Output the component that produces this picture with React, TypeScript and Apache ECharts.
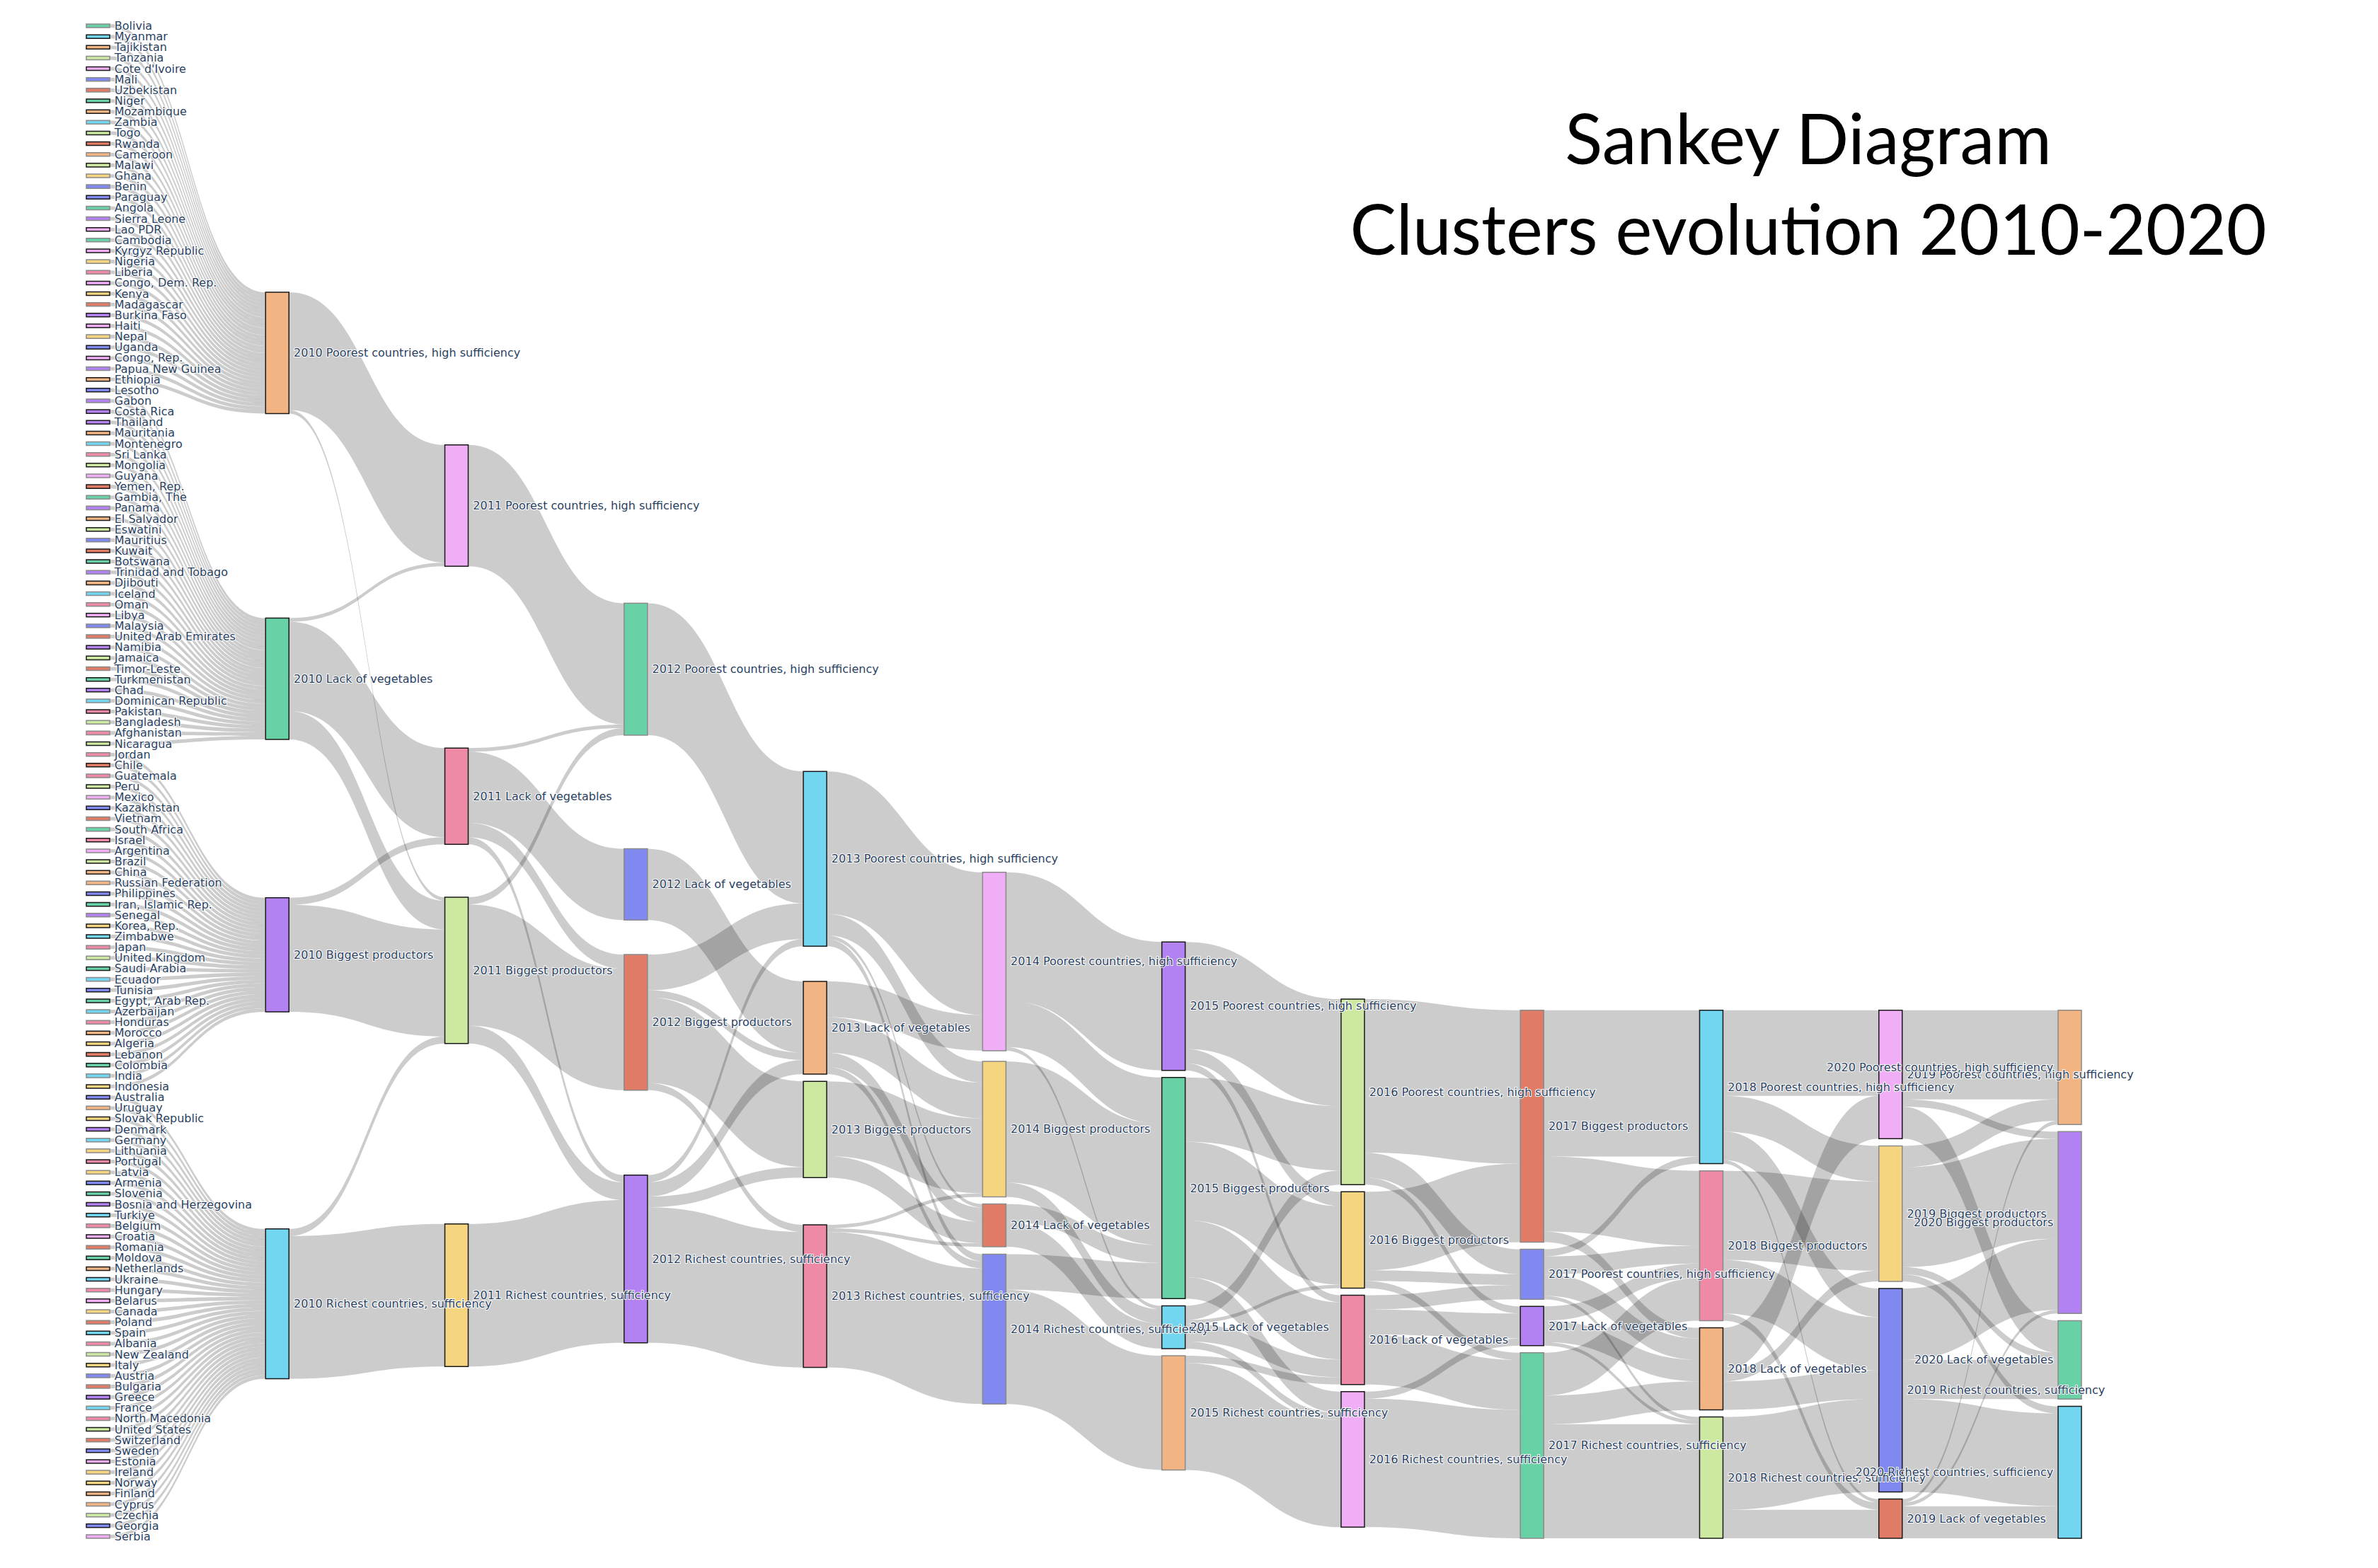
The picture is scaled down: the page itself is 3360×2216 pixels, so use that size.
import React, { useEffect, useRef } from 'react';
import * as echarts from 'echarts';

// ---------- DATA ----------
const clusters = [
  'Poorest countries, high sufficiency',
  'Lack of vegetables',
  'Biggest productors',
  'Richest countries, sufficiency',
];
const years = [2010, 2011, 2012, 2013, 2014, 2015, 2016, 2017, 2018, 2019, 2020];

const poorest2010 = [
  'Bolivia', 'Myanmar', 'Tajikistan', 'Tanzania', "Cote d'Ivoire", 'Mali', 'Uzbekistan', 'Niger',
  'Mozambique', 'Zambia', 'Togo', 'Rwanda', 'Cameroon', 'Malawi', 'Ghana', 'Benin', 'Paraguay',
  'Angola', 'Sierra Leone', 'Lao PDR', 'Cambodia', 'Kyrgyz Republic', 'Nigeria', 'Liberia',
  'Congo, Dem. Rep.', 'Kenya', 'Madagascar', 'Burkina Faso', 'Haiti', 'Nepal', 'Uganda',
  'Congo, Rep.', 'Papua New Guinea', 'Ethiopia',
];
const lack2010 = [
  'Lesotho', 'Gabon', 'Costa Rica', 'Thailand', 'Mauritania', 'Montenegro', 'Sri Lanka', 'Mongolia',
  'Guyana', 'Yemen, Rep.', 'Gambia, The', 'Panama', 'El Salvador', 'Eswatini', 'Mauritius', 'Kuwait',
  'Botswana', 'Trinidad and Tobago', 'Djibouti', 'Iceland', 'Oman', 'Libya', 'Malaysia',
  'United Arab Emirates', 'Namibia', 'Jamaica', 'Timor-Leste', 'Turkmenistan', 'Chad',
  'Dominican Republic', 'Pakistan', 'Bangladesh', 'Afghanistan', 'Nicaragua',
];
const biggest2010 = [
  'Jordan', 'Chile', 'Guatemala', 'Peru', 'Mexico', 'Kazakhstan', 'Vietnam', 'South Africa', 'Israel',
  'Argentina', 'Brazil', 'China', 'Russian Federation', 'Philippines', 'Iran, Islamic Rep.', 'Senegal',
  'Korea, Rep.', 'Zimbabwe', 'Japan', 'United Kingdom', 'Saudi Arabia', 'Ecuador', 'Tunisia',
  'Egypt, Arab Rep.', 'Azerbaijan', 'Honduras', 'Morocco', 'Algeria', 'Lebanon', 'Colombia', 'India',
  'Indonesia',
];
const richest2010 = [
  'Australia', 'Uruguay', 'Slovak Republic', 'Denmark', 'Germany', 'Lithuania', 'Portugal', 'Latvia',
  'Armenia', 'Slovenia', 'Bosnia and Herzegovina', 'Turkiye', 'Belgium', 'Croatia', 'Romania',
  'Moldova', 'Netherlands', 'Ukraine', 'Hungary', 'Belarus', 'Canada', 'Poland', 'Spain', 'Albania',
  'New Zealand', 'Italy', 'Austria', 'Bulgaria', 'Greece', 'France', 'North Macedonia',
  'United States', 'Switzerland', 'Sweden', 'Estonia', 'Ireland', 'Norway', 'Finland', 'Cyprus',
  'Czechia', 'Georgia', 'Serbia',
];

// transitions between consecutive years, rows = from [P, L, B, R], cols = to [P, L, B, R]
const flows2010to2011 = [[33, 0, 1, 0], [1, 25, 8, 0], [0, 2, 30, 0], [0, 0, 2, 40]];
const flows2011to2012 = [[34, 0, 0, 0], [1, 20, 4, 2], [2, 0, 34, 5], [0, 0, 0, 40]];
const flows2012to2013 = [[37, 0, 0, 0], [0, 20, 0, 0], [10, 2, 24, 2], [2, 4, 3, 38]];
const flows2013to2014 = [[40, 1, 6, 2], [10, 4, 10, 2], [0, 6, 21, 0], [0, 1, 1, 38]];
const flows2014to2015 = [[36, 1, 13, 0], [0, 7, 5, 0], [0, 4, 34, 0], [0, 0, 10, 32]];
const flows2015to2016 = [[30, 2, 4, 0], [4, 5, 1, 2], [18, 16, 22, 6], [0, 2, 0, 30]];
const flows2016to2017 = [[7, 2, 43, 0], [4, 7, 0, 14], [3, 0, 22, 2], [0, 2, 0, 36]];
const flows2017to2018 = [[2, 6, 5, 1], [0, 6, 4, 1], [41, 3, 21, 0], [0, 8, 12, 32]];
const flows2018to2019 = [[24, 1, 10, 8], [12, 0, 3, 8], [0, 2, 25, 15], [0, 8, 0, 26]];
const flows2019to2020 = [[25, 9, 2, 0], [1, 0, 1, 9], [6, 2, 28, 2], [0, 11, 20, 26]];

const transitions = [
  flows2010to2011, flows2011to2012, flows2012to2013, flows2013to2014, flows2014to2015,
  flows2015to2016, flows2016to2017, flows2017to2018, flows2018to2019, flows2019to2020,
];

// ---------- STYLES ----------
const palette: Record<string, string> = {
  G: '#68D2A6', // green
  C: '#72D6F0', // cyan
  O: '#F2B482', // orange
  E: '#CDE8A0', // light green
  V: '#F0AEF6', // violet
  U: '#8089F0', // blue
  D: '#E07C66', // red
  P: '#B282F2', // purple
  Y: '#F5D580', // yellow
  S: '#EE8AA6', // rose
};
// one letter per country, in list order
const countryColorKeys =
  'GCOEVUDGOCEDOEYUUGPVGVYS' + 'VYDPVYUVPOUPPPOCSEVDGPO' + 'EUDGPOCSVUDPEDGPCSESESDSE' +
  'VUDGSVEOOUGPYCSEGCUGCSOY' + 'DGCYUOYPCYSYUGPCSVDGOCSV' + 'YDCSEYUDPCSEDUVYYOOEUVD';
// b = black outline, g = grey outline
const countryBorderKeys =
  'gbbgbggbbgbbgbggbggbgbgg' + 'bbgbbgbbgbbgbbbggbgbggbb' + 'gbbgbggbggbbgbbgbggbgbgb' +
  'gbggbgbbgbbgbbggbgbbggbb' + 'bbgbbgbbggbgbbbbgbgbbbgbgg' + 'bggbggbggbgbbgbbggbgbbg';

// per year, colours of [P, L, B, R]
const clusterColorKeys = [
  'OGPC', 'VSEY', 'GUDP', 'COES', 'VDYU', 'PCGO', 'ESYV', 'UPDG', 'COSE', 'VDYU', 'OGPC',
];
const clusterBorderKeys = [
  'bbbb', 'bbbb', 'gggb', 'bbbb', 'gggg', 'bbbg', 'bbbb', 'gbgg', 'bbgb', 'bbgb', 'gggb',
];

const BORDER: Record<string, string> = { b: '#1a1a1a', g: '#8a8a8a' };

function App() {
  const ref = useRef<HTMLDivElement>(null);

  useEffect(() => {
    document.body.style.margin = '0';
    const chart = echarts.init(ref.current!, null, { renderer: 'svg' });

    const countryLists = [poorest2010, lack2010, biggest2010, richest2010];
    const countries = countryLists.flat();

    const nodes: any[] = [];
    const links: any[] = [];

    countries.forEach((c, i) => {
      nodes.push({
        name: c,
        itemStyle: {
          color: palette[countryColorKeys[i]] || '#F2B482',
          borderColor: BORDER[countryBorderKeys[i]] || BORDER.g,
        },
      });
    });

    const clusterName = (yi: number, ci: number) => `${years[yi]} ${clusters[ci]}`;

    years.forEach((y, yi) => {
      clusters.forEach((_, ci) => {
        const last = yi === years.length - 1;
        nodes.push({
          name: clusterName(yi, ci),
          itemStyle: {
            color: palette[clusterColorKeys[yi][ci]],
            borderColor: BORDER[clusterBorderKeys[yi][ci]],
          },
          label: last ? { position: 'left' } : undefined,
        });
      });
    });

    countryLists.forEach((list, ci) => {
      list.forEach((c) => links.push({ source: c, target: clusterName(0, ci), value: 1 }));
    });

    transitions.forEach((m, ti) => {
      m.forEach((row, from) => {
        row.forEach((v, to) => {
          if (v > 0) links.push({ source: clusterName(ti, from), target: clusterName(ti + 1, to), value: v });
        });
      });
    });

    chart.setOption({
      animation: false,
      backgroundColor: '#fff',
      title: {
        text: 'Sankey Diagram\nClusters evolution 2010-2020',
        left: 2555,
        top: 130,
        textAlign: 'center',
        padding: 0,
        textStyle: {
          fontFamily: 'Lato',
          fontWeight: 'normal',
          fontSize: 98,
          lineHeight: 128,
          color: '#000',
        },
      },
      series: [
        {
          type: 'sankey',
          left: 122,
          top: 34,
          width: 2819,
          height: 2140,
          nodeWidth: 33,
          nodeGap: 10.1,
          layoutIterations: 50,
          draggable: false,
          emphasis: { focus: 'none' },
          label: {
            show: true,
            position: 'right',
            distance: 6,
            fontSize: 16,
            fontFamily: 'DejaVu Sans',
            color: '#2a3f5f',
            textBorderColor: '#fff',
            textBorderWidth: 2,
          },
          itemStyle: { borderWidth: 1.5 },
          lineStyle: { color: '#000', opacity: 0.2, curveness: 0.5 },
          data: nodes,
          links,
        },
      ],
    });

    return () => chart.dispose();
  }, []);

  return (
    <div
      ref={ref}
      style={{ position: 'fixed', left: 0, top: 0, width: 3360, height: 2216, background: '#fff' }}
    />
  );
}

export default App;
